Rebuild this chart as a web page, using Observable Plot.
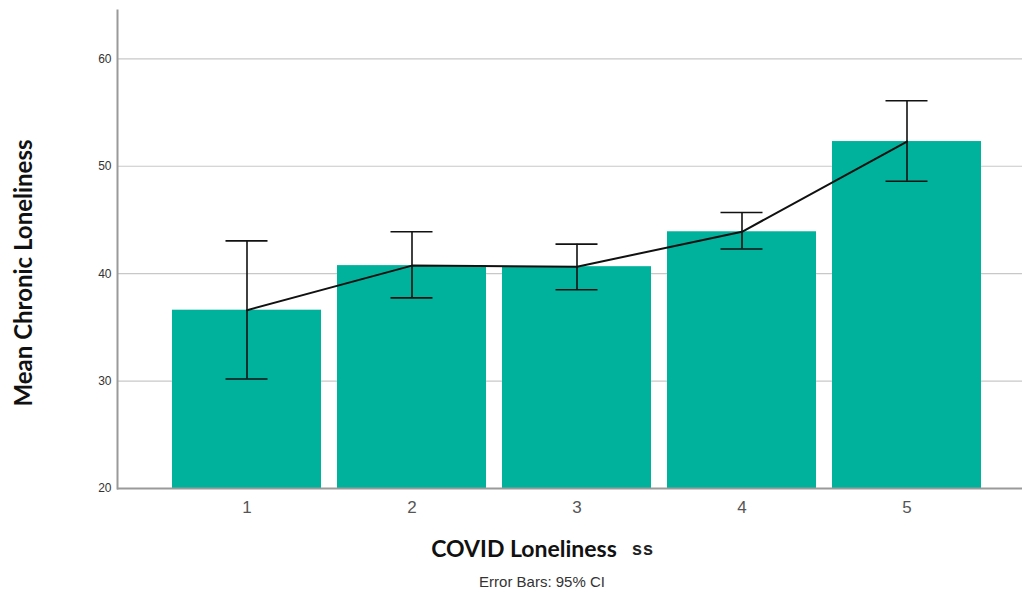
<!DOCTYPE html>
<html>
<head>
<meta charset="utf-8">
<script src="https://cdn.jsdelivr.net/npm/d3@7"></script>
<script src="https://cdn.jsdelivr.net/npm/@observablehq/plot@0.6"></script>
<style>
  html, body { margin: 0; padding: 0; background: #fff; }
  #wrap { position: relative; width: 1023px; height: 591px; }
  .lbl { position: absolute; white-space: nowrap; }
  #ytitle { font: bold 24px Lato, "Open Sans", sans-serif; color: #111; left: 22px; top: 273px; transform: translate(-50%, -50%) rotate(-90deg); }
  #xtitle { font: bold 23px Lato, "Open Sans", sans-serif; color: #111; left: 524px; top: 548px; transform: translate(-50%, -50%); }
  #xss { font: bold 18px "Liberation Sans", Arial, sans-serif; letter-spacing: 1px; color: #222; left: 643px; top: 549px; transform: translate(-50%, -50%); }
  #caption { font: 15px "Liberation Sans", Arial, sans-serif; color: #333; left: 542px; top: 581px; transform: translate(-50%, -50%); }
</style>
</head>
<body>
<div id="wrap">
  <div id="chart"></div>
  <div class="lbl" id="ytitle">Mean Chronic Loneliness</div>
  <div class="lbl" id="xtitle">COVID Loneliness</div>
  <div class="lbl" id="xss">ss</div>
  <div class="lbl" id="caption">Error Bars: 95% CI</div>
</div>
<script>
const categories = ["1", "2", "3", "4", "5"];
const means = [36.6, 40.75, 40.65, 43.9, 52.3];
const ciLow = [30.2, 37.75, 38.5, 42.3, 48.6];
const ciHigh = [43.05, 43.9, 42.75, 45.7, 56.1];
const yTicks = [20, 30, 40, 50, 60];

const data = categories.map((c, i) => ({cat: c, mean: means[i], lo: ciLow[i], hi: ciHigh[i], base: 20}));

const chart = Plot.plot({
  width: 1023,
  height: 591,
  marginTop: 10,
  marginLeft: 117,
  marginRight: 1,
  marginBottom: 103,
  style: {fontFamily: "'Liberation Sans', Arial, sans-serif", background: "#fff"},
  x: {domain: categories, padding: 0.1, paddingOuter: 0.29, align: 0.57, label: null},
  y: {domain: [20, 64.5], label: null},
  marks: [
    Plot.gridY(yTicks.filter(t => t > 20), {stroke: "#c8c8c8", strokeOpacity: 1, strokeWidth: 1.2}),
    Plot.barY(data, {x: "cat", y1: "base", y2: "mean", fill: "#00b29b"}),
    Plot.ruleX(data, {x: "cat", y1: "lo", y2: "hi", stroke: "#111", strokeWidth: 1.6}),
    Plot.tickY(data, {x: "cat", y: "hi", stroke: "#111", strokeWidth: 1.6, insetLeft: 53.5, insetRight: 53.5}),
    Plot.tickY(data, {x: "cat", y: "lo", stroke: "#111", strokeWidth: 1.6, insetLeft: 53.5, insetRight: 53.5}),
    Plot.line(data, {x: "cat", y: "mean", stroke: "#111", strokeWidth: 2}),
    Plot.axisY({ticks: yTicks, tickSize: 0, tickPadding: 6, fontSize: 12, fill: "#333", label: null}),
    Plot.axisX({tickSize: 0, tickPadding: 12, fontSize: 17, fill: "#555", label: null}),
    Plot.frame({anchor: "left", stroke: "#9a9a9a", strokeWidth: 2}),
    Plot.ruleY([20], {stroke: "#9a9a9a", strokeWidth: 2})
  ]
});
document.getElementById("chart").appendChild(chart);
</script>
</body>
</html>
